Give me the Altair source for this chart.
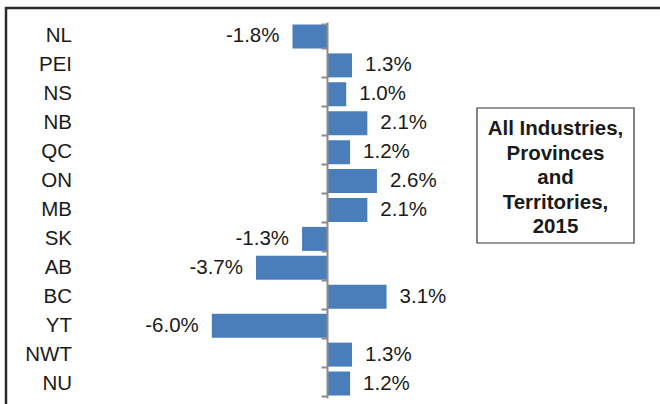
import altair as alt
import pandas as pd

regions = ["NL", "PEI", "NS", "NB", "QC", "ON", "MB", "SK", "AB", "BC", "YT", "NWT", "NU"]
growth = [-1.8, 1.3, 1.0, 2.1, 1.2, 2.6, 2.1, -1.3, -3.7, 3.1, -6.0, 1.3, 1.2]
box_text = "All Industries,\nProvinces\nand\nTerritories,\n2015"

df = pd.DataFrame({"region": regions, "growth": growth})
df["label"] = [f"{v:.1f}%" for v in growth]
one = pd.DataFrame({"k": [0]})

W, H = 570, 376
x_domain = [-12.865, 16.82]
zero_px = 247

BLUE = "#4a7ebb"
TXT = "#1a1a1a"
FONT = "Liberation Sans"

yscale = alt.Scale(domain=regions, paddingInner=0.17, paddingOuter=0.085)
xscale = alt.Scale(domain=x_domain, nice=False, zero=False)

zero_axis = alt.Axis(orient="left", offset=-zero_px, labels=False, title=None,
                     domainColor="#8c8c8c", domainWidth=2, tickColor="#8c8c8c",
                     tickWidth=2, tickSize=6, tickBand="extent", grid=False, zindex=1)

base = alt.Chart(df)
ann = alt.Chart(one)

Y = alt.Y("region:N", scale=yscale, sort=regions, axis=zero_axis)

bars = base.mark_bar(color=BLUE).encode(
    y=Y,
    x=alt.X("growth:Q", scale=xscale, axis=None),
    x2=alt.datum(0),
)

pos_labels = base.transform_filter("datum.growth >= 0").mark_text(
    align="left", baseline="middle", dx=13, fontSize=20.5, font=FONT, color=TXT
).encode(
    y=Y,
    x=alt.X("growth:Q", scale=xscale, axis=None),
    text="label:N",
)

neg_labels = base.transform_filter("datum.growth < 0").mark_text(
    align="right", baseline="middle", dx=-13, fontSize=20.5, font=FONT, color=TXT
).encode(
    y=Y,
    x=alt.X("growth:Q", scale=xscale, axis=None),
    text="label:N",
)

cat_labels = base.mark_text(
    align="right", baseline="middle", fontSize=20.5, font=FONT, color=TXT
).encode(
    y=Y,
    x=alt.value(-8),
    text="region:N",
)

frame_top = ann.mark_rule(color="#2b2b2b", strokeWidth=2.5).encode(
    x=alt.value(-75), x2=alt.value(600), y=alt.value(-14)
)
frame_left = ann.mark_rule(color="#2b2b2b", strokeWidth=2.5).encode(
    x=alt.value(-74), y=alt.value(-15), y2=alt.value(400)
)

box = ann.mark_rect(fill="white", stroke="#333333", strokeWidth=1.2).encode(
    x=alt.value(397), x2=alt.value(554), y=alt.value(86), y2=alt.value(221)
)
box_txt = ann.mark_text(
    align="center", baseline="middle", fontSize=20.5, fontWeight="bold", font=FONT,
    color=TXT, lineBreak="\n", lineHeight=24.5
).encode(
    x=alt.value(475.5), y=alt.value(107), text=alt.value(box_text)
)

chart = alt.layer(
    frame_top, frame_left, bars, pos_labels, neg_labels, cat_labels, box, box_txt
).properties(
    width=W, height=H,
    autosize=alt.AutoSizeParams(type="none"),
    padding={"left": 80, "top": 22, "right": 10, "bottom": 6},
).configure(background="white", view=alt.ViewConfig(stroke=None))

chart.save("out.html", embed_options={"renderer": "svg", "actions": False})
